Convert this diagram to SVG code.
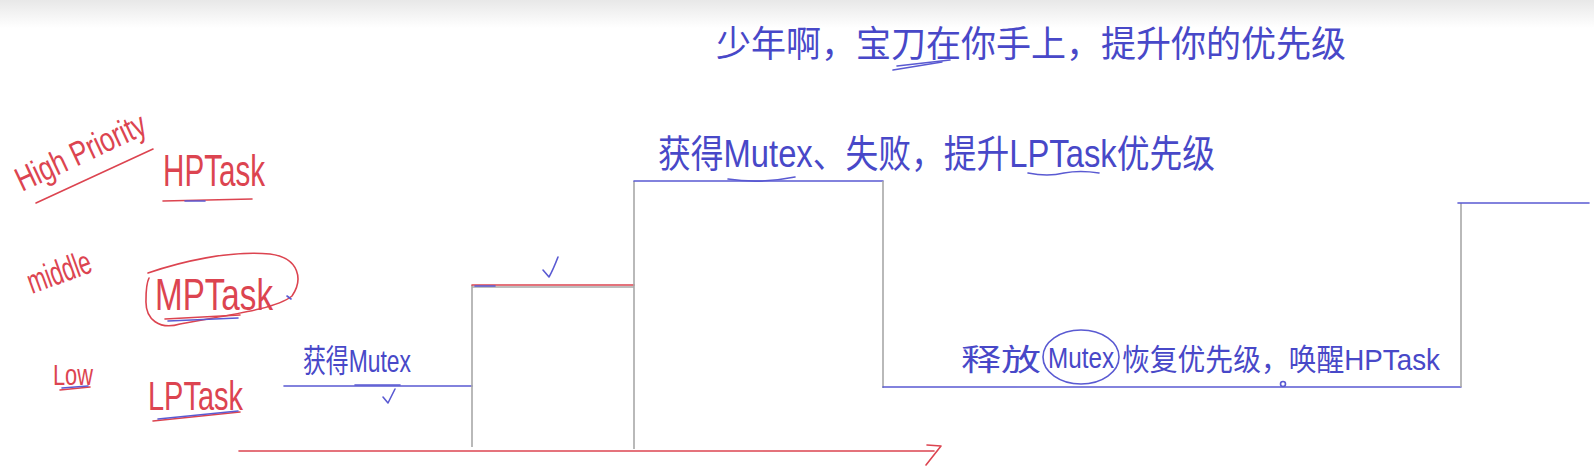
<svg xmlns="http://www.w3.org/2000/svg" width="1594" height="472" viewBox="0 0 1594 472">
<defs>
<linearGradient id="bg" x1="0" y1="0" x2="0" y2="1"><stop offset="0" stop-color="#e8e8e8"/><stop offset="1" stop-color="#ffffff"/></linearGradient>
</defs>
<style>
text{font-family:"Liberation Sans","Noto Sans CJK SC",sans-serif}
.red{fill:#dc4450}
.blue{fill:#4848c8}
.rl{stroke:#dc4450;fill:none;stroke-width:1.6;stroke-linecap:round;stroke-linejoin:round}
.bl{stroke:#5a5ad2;fill:none;stroke-width:1.6;stroke-linecap:round;stroke-linejoin:round}
.gl{stroke:#a8a8a8;fill:none;stroke-width:1.6}
</style>
<rect width="1594" height="472" fill="#fff"/>
<rect width="1594" height="28" fill="url(#bg)"/>

<g id="label-high-priority">
<text class="red" font-size="34" transform="translate(22,192) rotate(-25)" textLength="140" lengthAdjust="spacingAndGlyphs">High Priority</text>
<path class="rl" d="M36 203 L153 149"/>
</g>
<g id="node-hptask">
<text class="red" x="163" y="186" font-size="44" textLength="102" lengthAdjust="spacingAndGlyphs">HPTask</text>
<path class="rl" d="M163 201 L252 199"/>
<path class="bl" d="M185 201 L205 201"/>
</g>
<g id="label-middle">
<text class="red" font-size="34" transform="translate(32,294) rotate(-20)" textLength="66" lengthAdjust="spacingAndGlyphs">middle</text>
</g>
<g id="node-mptask">
<text class="red" x="155" y="310" font-size="44" textLength="118" lengthAdjust="spacingAndGlyphs">MPTask</text>
<path class="rl" d="M148 273 C180 262 230 250 270 254 C300 258 303 280 292 296 C275 310 220 316 180 324 C160 330 145 320 146 300 C146 290 147 282 149 278"/>
<path class="rl" d="M165 319 L240 315"/>
<path class="bl" d="M168 321 L238 318"/>
<path class="bl" d="M287 296 L291 299"/>
</g>
<g id="label-low">
<text class="red" x="53" y="385" font-size="30" textLength="40" lengthAdjust="spacingAndGlyphs">Low</text>
<path class="rl" d="M60 390 L90 387"/>
<path class="bl" d="M62 388 L88 386"/>
</g>
<g id="node-lptask">
<text class="red" x="148" y="410" font-size="40" textLength="95" lengthAdjust="spacingAndGlyphs">LPTask</text>
<path class="rl" d="M153 421 L240 412"/>
<path class="bl" d="M158 419 L238 411"/>
</g>

<g id="note-top">
<text class="blue" x="716" y="57" font-size="36" textLength="630" lengthAdjust="spacingAndGlyphs">少年啊，宝刀在你手上，提升你的优先级</text>
<path class="bl" d="M893 70 L942 62"/>
<path class="bl" d="M897 66 L950 60"/>
</g>
<g id="note-fail">
<text class="blue" x="658" y="167" font-size="38" textLength="557" lengthAdjust="spacingAndGlyphs">获得Mutex、失败，提升LPTask优先级</text>
<path class="bl" d="M728 179 Q760 184 795 177"/>
<path class="bl" d="M1028 173 Q1048 177 1064 173 Q1080 170 1099 173"/>
</g>
<g id="note-get">
<text class="blue" x="303" y="372" font-size="32" textLength="108" lengthAdjust="spacingAndGlyphs">获得Mutex</text>
</g>
<g id="note-release">
<text class="blue" x="961" y="370" font-size="30" textLength="80" lengthAdjust="spacingAndGlyphs">释放</text>
<text class="blue" x="1048" y="368" font-size="30" textLength="66" lengthAdjust="spacingAndGlyphs">Mutex</text>
<ellipse class="bl" cx="1081" cy="357" rx="38" ry="27"/>
<text class="blue" x="1122" y="370" font-size="30" textLength="318" lengthAdjust="spacingAndGlyphs">恢复优先级，唤醒HPTask</text>
</g>

<g id="connectors">
<path class="rl" d="M239 451 H934"/>
<path class="rl" d="M927 445 L941 446 L926 465"/>
<path class="bl" d="M284 386 H472"/>
<path class="bl" d="M355 385 H400" stroke-width="3"/>
<path class="bl" d="M383 397 L388 403 L395 389"/>
<path class="gl" d="M472 285 V447"/>
<path class="gl" d="M472 287 H634"/>
<path class="rl" d="M472 285 H634"/>
<path class="bl" d="M475 286 H495"/>
<path class="bl" d="M543 270 L549 277 Q553 270 558 257"/>
<path class="gl" d="M634 181 V449"/>
<path class="bl" d="M634 181 H883"/>
<path class="gl" d="M883 181 V388"/>
<path class="bl" d="M883 387 H1461"/>
<circle class="bl" cx="1283" cy="384" r="2.5"/>
<path class="gl" d="M1461 203 V387"/>
<path class="bl" d="M1458 203 H1589"/>
</g>
</svg>
